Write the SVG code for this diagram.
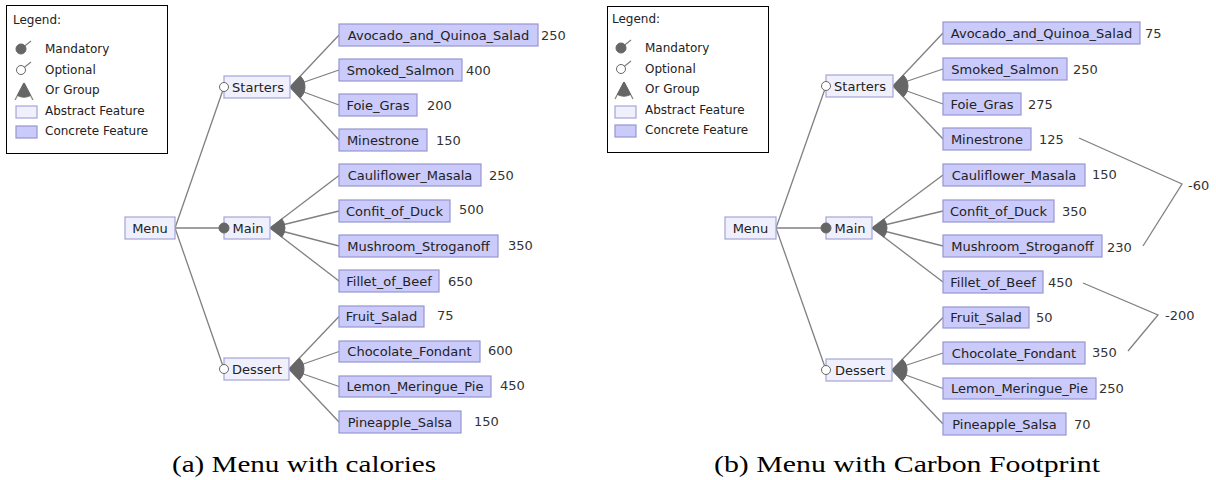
<svg xmlns="http://www.w3.org/2000/svg" width="1216" height="480" viewBox="0 0 1216 480">
<style>
  .bg{fill:#ffffff}
  .lg{fill:#ffffff;stroke:#000000;stroke-width:1}
  .abs{fill:#f0f0fd;stroke:#a4a4d8;stroke-width:1.2}
  .con{fill:#cacafb;stroke:#9696d2;stroke-width:1.2}
  .t{font-family:"DejaVu Sans",Verdana,sans-serif;font-size:13px;fill:#222222}
  .lt{font-family:"DejaVu Sans",Verdana,sans-serif;font-size:12px;fill:#222222}
  .v{font-family:"DejaVu Sans",Verdana,sans-serif;font-size:13px;fill:#333333}
  .ln{stroke:#808080;stroke-width:1.3;fill:none}
  .mand{fill:#666666;stroke:#666666;stroke-width:1}
  .opt{fill:#ffffff;stroke:#666666;stroke-width:1}
  .grp{fill:#666666;stroke:#666666;stroke-width:1}
  .cap{font-family:"Liberation Serif","Times New Roman",serif;font-size:24px;fill:#000000}
</style>
<rect class="bg" x="0" y="0" width="1216" height="480"/>

<!-- ================= Panel (a) ================= -->
<g id="legend-a">
  <rect class="lg" x="6.5" y="5.5" width="161" height="148"/>
  <text class="lt" x="13" y="24">Legend:</text>
  <line class="ln" x1="21" y1="49" x2="31" y2="41"/>
  <circle class="mand" cx="21" cy="49" r="5"/>
  <text class="lt" x="45" y="53">Mandatory</text>
  <line class="ln" x1="21" y1="70" x2="31" y2="62"/>
  <circle class="opt" cx="21" cy="70" r="4.5"/>
  <text class="lt" x="45" y="74">Optional</text>
  <line class="ln" x1="24" y1="83" x2="15" y2="100"/>
  <line class="ln" x1="24" y1="83" x2="33" y2="100"/>
  <path class="grp" d="M24,83 L17.5,95.5 A14,14 0 0,0 30.5,95.5 Z"/>
  <text class="lt" x="45" y="94">Or Group</text>
  <rect class="abs" x="16" y="106" width="21" height="12"/>
  <text class="lt" x="45" y="115">Abstract Feature</text>
  <rect class="con" x="16" y="126" width="21" height="12"/>
  <text class="lt" x="45" y="135">Concrete Feature</text>
</g>

<g id="connectors-a">
  <line class="ln" x1="175" y1="228" x2="224" y2="87"/>
  <line class="ln" x1="175" y1="228" x2="224" y2="228"/>
  <line class="ln" x1="175" y1="228" x2="224" y2="369"/>
  <line class="ln" x1="290" y1="87" x2="339" y2="35"/>
  <line class="ln" x1="290" y1="87" x2="339" y2="70"/>
  <line class="ln" x1="290" y1="87" x2="339" y2="105"/>
  <line class="ln" x1="290" y1="87" x2="339" y2="140"/>
  <line class="ln" x1="270" y1="228" x2="339" y2="175.5"/>
  <line class="ln" x1="270" y1="228" x2="339" y2="211"/>
  <line class="ln" x1="270" y1="228" x2="339" y2="246"/>
  <line class="ln" x1="270" y1="228" x2="339" y2="281"/>
  <line class="ln" x1="289" y1="369" x2="339" y2="316.5"/>
  <line class="ln" x1="289" y1="369" x2="339" y2="351.5"/>
  <line class="ln" x1="289" y1="369" x2="339" y2="386.5"/>
  <line class="ln" x1="289" y1="369" x2="339" y2="422"/>
  <path class="grp" d="M290,87 L300.3,76.1 A15,15 0 0,1 300.2,98 Z"/>
  <path class="grp" d="M270,228 L281.9,218.9 A15,15 0 0,1 281.9,237.1 Z"/>
  <path class="grp" d="M289,369 L299.3,358.1 A15,15 0 0,1 299.3,379.9 Z"/>
</g>

<g id="a-menu"><rect class="abs" x="125" y="217" width="50" height="22"/><text class="t" x="150" y="233" text-anchor="middle">Menu</text></g>
<g id="a-starters"><rect class="abs" x="224" y="76" width="66" height="22"/><text class="t" x="258" y="92" text-anchor="middle">Starters</text><circle class="opt" cx="224" cy="87" r="4.5"/></g>
<g id="a-main"><rect class="abs" x="224" y="217" width="46" height="22"/><text class="t" x="248" y="233" text-anchor="middle">Main</text><circle class="mand" cx="224" cy="228" r="5"/></g>
<g id="a-dessert"><rect class="abs" x="224" y="358" width="65" height="22"/><text class="t" x="257" y="374" text-anchor="middle">Dessert</text><circle class="opt" cx="224" cy="369" r="4.5"/></g>

<g id="a-avocado"><rect class="con" x="339" y="24" width="199" height="22"/><text class="t" x="438.5" y="40" text-anchor="middle">Avocado_and_Quinoa_Salad</text><text class="v" x="541" y="40">250</text></g>
<g id="a-salmon"><rect class="con" x="339" y="59" width="123" height="22"/><text class="t" x="400.5" y="75" text-anchor="middle">Smoked_Salmon</text><text class="v" x="466" y="75">400</text></g>
<g id="a-foie"><rect class="con" x="339" y="94" width="78" height="22"/><text class="t" x="378" y="110" text-anchor="middle">Foie_Gras</text><text class="v" x="427" y="110">200</text></g>
<g id="a-minestrone"><rect class="con" x="339" y="129" width="88" height="22"/><text class="t" x="383" y="145" text-anchor="middle">Minestrone</text><text class="v" x="436" y="145">150</text></g>
<g id="a-cauliflower"><rect class="con" x="339" y="164" width="142" height="22"/><text class="t" x="410" y="180" text-anchor="middle">Cauliflower_Masala</text><text class="v" x="489" y="180">250</text></g>
<g id="a-confit"><rect class="con" x="339" y="200" width="111" height="22"/><text class="t" x="394.5" y="216" text-anchor="middle">Confit_of_Duck</text><text class="v" x="459" y="214">500</text></g>
<g id="a-mushroom"><rect class="con" x="339" y="235" width="159" height="22"/><text class="t" x="418.5" y="251" text-anchor="middle">Mushroom_Stroganoff</text><text class="v" x="508" y="250">350</text></g>
<g id="a-fillet"><rect class="con" x="339" y="270" width="100" height="22"/><text class="t" x="389" y="286" text-anchor="middle">Fillet_of_Beef</text><text class="v" x="448" y="286">650</text></g>
<g id="a-fruit"><rect class="con" x="339" y="306" width="85" height="21"/><text class="t" x="381.5" y="321" text-anchor="middle">Fruit_Salad</text><text class="v" x="437" y="320">75</text></g>
<g id="a-chocolate"><rect class="con" x="339" y="341" width="141" height="21"/><text class="t" x="409.5" y="356" text-anchor="middle">Chocolate_Fondant</text><text class="v" x="488" y="355">600</text></g>
<g id="a-lemon"><rect class="con" x="339" y="376" width="152" height="21"/><text class="t" x="415" y="391" text-anchor="middle">Lemon_Meringue_Pie</text><text class="v" x="500" y="390">450</text></g>
<g id="a-pineapple"><rect class="con" x="339" y="411" width="122" height="22"/><text class="t" x="400" y="427" text-anchor="middle">Pineapple_Salsa</text><text class="v" x="474" y="426">150</text></g>

<text class="cap" x="304" y="472" text-anchor="middle" textLength="264" lengthAdjust="spacingAndGlyphs">(a) Menu with calories</text>

<!-- ================= Panel (b) ================= -->
<g id="legend-b">
  <rect class="lg" x="607.5" y="6.5" width="161" height="146"/>
  <text class="lt" x="612" y="23">Legend:</text>
  <line class="ln" x1="621" y1="48" x2="631" y2="40"/>
  <circle class="mand" cx="621" cy="48" r="5"/>
  <text class="lt" x="645" y="52">Mandatory</text>
  <line class="ln" x1="621" y1="69" x2="631" y2="61"/>
  <circle class="opt" cx="621" cy="69" r="4.5"/>
  <text class="lt" x="645" y="73">Optional</text>
  <line class="ln" x1="624" y1="82" x2="615" y2="99"/>
  <line class="ln" x1="624" y1="82" x2="633" y2="99"/>
  <path class="grp" d="M624,82 L617.5,94.5 A14,14 0 0,0 630.5,94.5 Z"/>
  <text class="lt" x="645" y="93">Or Group</text>
  <rect class="abs" x="615" y="106" width="21" height="12"/>
  <text class="lt" x="645" y="114">Abstract Feature</text>
  <rect class="con" x="615" y="125" width="21" height="12"/>
  <text class="lt" x="645" y="134">Concrete Feature</text>
</g>

<g id="connectors-b">
  <line class="ln" x1="776" y1="228" x2="826" y2="86"/>
  <line class="ln" x1="776" y1="228" x2="826" y2="228"/>
  <line class="ln" x1="776" y1="228" x2="826" y2="370"/>
  <line class="ln" x1="893" y1="86" x2="943" y2="33"/>
  <line class="ln" x1="893" y1="86" x2="943" y2="69"/>
  <line class="ln" x1="893" y1="86" x2="943" y2="104"/>
  <line class="ln" x1="893" y1="86" x2="943" y2="139"/>
  <line class="ln" x1="872" y1="228" x2="943" y2="175"/>
  <line class="ln" x1="872" y1="228" x2="943" y2="211"/>
  <line class="ln" x1="872" y1="228" x2="943" y2="246"/>
  <line class="ln" x1="872" y1="228" x2="943" y2="282"/>
  <line class="ln" x1="892" y1="370" x2="943" y2="317.5"/>
  <line class="ln" x1="892" y1="370" x2="943" y2="353"/>
  <line class="ln" x1="892" y1="370" x2="943" y2="388.5"/>
  <line class="ln" x1="892" y1="370" x2="943" y2="424"/>
  <path class="grp" d="M893,86 L903.3,75.1 A15,15 0 0,1 903.3,96.9 Z"/>
  <path class="grp" d="M872,228 L884,219 A15,15 0 0,1 883.9,237.1 Z"/>
  <path class="grp" d="M892,370 L902.5,359.2 A15,15 0 0,1 902.3,380.9 Z"/>
  <polyline class="ln" points="1079,138 1182,184 1143,246"/>
  <polyline class="ln" points="1083,283 1158,315 1128,351"/>
</g>

<g id="b-menu"><rect class="abs" x="725" y="217" width="51" height="22"/><text class="t" x="750.5" y="233" text-anchor="middle">Menu</text></g>
<g id="b-starters"><rect class="abs" x="826" y="75" width="67" height="22"/><text class="t" x="860" y="91" text-anchor="middle">Starters</text><circle class="opt" cx="826" cy="86" r="4.5"/></g>
<g id="b-main"><rect class="abs" x="826" y="217" width="46" height="22"/><text class="t" x="850" y="233" text-anchor="middle">Main</text><circle class="mand" cx="826" cy="228" r="5"/></g>
<g id="b-dessert"><rect class="abs" x="826" y="359" width="66" height="22"/><text class="t" x="860" y="375" text-anchor="middle">Dessert</text><circle class="opt" cx="826" cy="370" r="4.5"/></g>

<g id="b-avocado"><rect class="con" x="943" y="22" width="197" height="22"/><text class="t" x="1041.5" y="38" text-anchor="middle">Avocado_and_Quinoa_Salad</text><text class="v" x="1145" y="38">75</text></g>
<g id="b-salmon"><rect class="con" x="943" y="58" width="124" height="22"/><text class="t" x="1005" y="74" text-anchor="middle">Smoked_Salmon</text><text class="v" x="1073" y="74">250</text></g>
<g id="b-foie"><rect class="con" x="943" y="93" width="78" height="22"/><text class="t" x="982" y="109" text-anchor="middle">Foie_Gras</text><text class="v" x="1028" y="109">275</text></g>
<g id="b-minestrone"><rect class="con" x="943" y="128" width="88" height="22"/><text class="t" x="987" y="144" text-anchor="middle">Minestrone</text><text class="v" x="1039" y="144">125</text></g>
<g id="b-cauliflower"><rect class="con" x="943" y="164" width="142" height="22"/><text class="t" x="1014" y="180" text-anchor="middle">Cauliflower_Masala</text><text class="v" x="1092" y="179">150</text></g>
<g id="b-confit"><rect class="con" x="943" y="200" width="111" height="22"/><text class="t" x="998.5" y="216" text-anchor="middle">Confit_of_Duck</text><text class="v" x="1062" y="216">350</text></g>
<g id="b-mushroom"><rect class="con" x="943" y="235" width="159" height="22"/><text class="t" x="1022.5" y="251" text-anchor="middle">Mushroom_Stroganoff</text><text class="v" x="1107" y="252">230</text></g>
<g id="b-fillet"><rect class="con" x="943" y="271" width="100" height="22"/><text class="t" x="993" y="287" text-anchor="middle">Fillet_of_Beef</text><text class="v" x="1048" y="287">450</text></g>
<g id="b-fruit"><rect class="con" x="943" y="307" width="86" height="21"/><text class="t" x="986" y="322" text-anchor="middle">Fruit_Salad</text><text class="v" x="1036" y="322">50</text></g>
<g id="b-chocolate"><rect class="con" x="943" y="342" width="142" height="22"/><text class="t" x="1014" y="358" text-anchor="middle">Chocolate_Fondant</text><text class="v" x="1092" y="357">350</text></g>
<g id="b-lemon"><rect class="con" x="943" y="378" width="153" height="21"/><text class="t" x="1019.5" y="393" text-anchor="middle">Lemon_Meringue_Pie</text><text class="v" x="1099" y="393">250</text></g>
<g id="b-pineapple"><rect class="con" x="943" y="413" width="123" height="22"/><text class="t" x="1004.5" y="429" text-anchor="middle">Pineapple_Salsa</text><text class="v" x="1074" y="429">70</text></g>

<text class="v" x="1188" y="190">-60</text>
<text class="v" x="1165" y="320">-200</text>

<text class="cap" x="907" y="472" text-anchor="middle" textLength="386" lengthAdjust="spacingAndGlyphs">(b) Menu with Carbon Footprint</text>
</svg>
